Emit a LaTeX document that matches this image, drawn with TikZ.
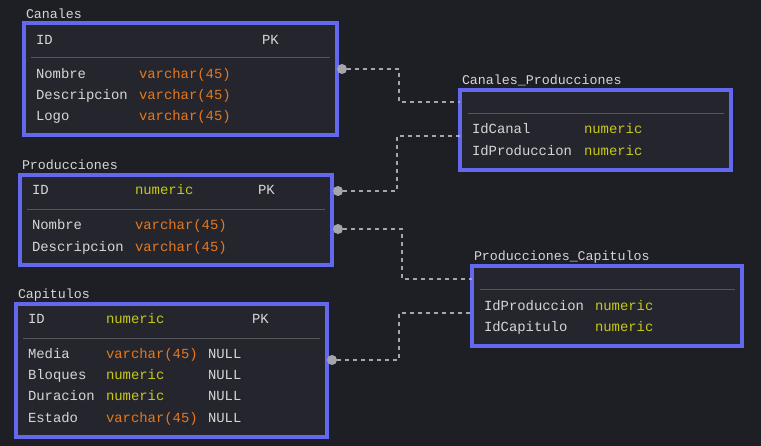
\documentclass[tikz,border=0pt]{standalone}
\usepackage{fontspec}
\setmonofont{Liberation Mono}
\definecolor{bgcol}{RGB}{30,31,36}
\definecolor{boxcol}{RGB}{37,38,45}
\definecolor{edgecol}{RGB}{99,104,238}
\definecolor{txtcol}{RGB}{214,214,214}
\definecolor{varcol}{RGB}{230,120,30}
\definecolor{numcol}{RGB}{200,200,25}
\definecolor{linkcol}{RGB}{165,165,170}
\definecolor{sepcol}{RGB}{85,86,92}
\begin{document}
\begin{tikzpicture}
[x=1pt,y=-1pt,
 every node/.style={inner sep=0pt,outer sep=0pt},
 tbl/.style={rectangle,draw=edgecol,fill=boxcol,line width=3.2pt,anchor=north west},
 ttl/.style={anchor=mid west,yshift=-1.5pt,text=txtcol,font=\fontsize{13.3}{15}\ttfamily},
 fld/.style={anchor=mid west,yshift=-2pt,text=txtcol,font=\fontsize{13.9}{16}\ttfamily},
 vch/.style={fld,text=varcol},
 num/.style={fld,text=numcol},
 sep/.style={draw=sepcol,line width=1pt},
 dot/.style={circle,fill=linkcol,minimum size=10pt},
 link/.style={draw=linkcol,line width=1.2pt,dash pattern=on 4pt off 4pt}]
\fill[bgcol] (0,0) rectangle (761,446);

% tables
\node[tbl,minimum width=313pt,minimum height=112pt] (canales)  at (24,23)  {};
\node[tbl,minimum width=271pt,minimum height=80pt]  (canprod)  at (460,90) {};
\node[tbl,minimum width=312pt,minimum height=90pt]  (producc)  at (20,175) {};
\node[tbl,minimum width=270pt,minimum height=80pt]  (prodcap)  at (472,266) {};
\node[tbl,minimum width=311pt,minimum height=133pt] (capitul)  at (16,304) {};

% Canales
\node[ttl] (canalesT) at (26,15) {Canales};
\node[fld] (canID)  at (36,40)  {ID};
\node[fld] (canPK)  at (262,40) {PK};
\path[sep] (31,58) -- (330,58);
\node[fld] (canNom) at (36,74)   {Nombre};
\node[vch] (canNomT) at (139,74) {varchar(45)};
\node[fld] (canDes) at (36,95)   {Descripcion};
\node[vch] (canDesT) at (139,95) {varchar(45)};
\node[fld] (canLog) at (36,116)  {Logo};
\node[vch] (canLogT) at (139,116) {varchar(45)};

% Canales_Producciones
\node[ttl] (canprodT) at (462,81) {Canales\_Producciones};
\path[sep] (468,114) -- (724,114);
\node[fld] (cpCan)  at (472,129)  {IdCanal};
\node[num] (cpCanT) at (584,129)  {numeric};
\node[fld] (cpPro)  at (472,151)  {IdProduccion};
\node[num] (cpProT) at (584,151)  {numeric};

% Producciones
\node[ttl] (produccT) at (22,166) {Producciones};
\node[fld] (proID)  at (32,190)  {ID};
\node[num] (proIDT) at (135,190) {numeric};
\node[fld] (proPK)  at (258,190) {PK};
\path[sep] (27,210) -- (325,210);
\node[fld] (proNom) at (32,225)   {Nombre};
\node[vch] (proNomT) at (135,225) {varchar(45)};
\node[fld] (proDes) at (32,247)   {Descripcion};
\node[vch] (proDesT) at (135,247) {varchar(45)};

% Producciones_Capitulos
\node[ttl] (prodcapT) at (474,257) {Producciones\_Capitulos};
\path[sep] (480,290) -- (735,290);
\node[fld] (pcPro)  at (484,306)  {IdProduccion};
\node[num] (pcProT) at (595,306)  {numeric};
\node[fld] (pcCap)  at (484,327)  {IdCapitulo};
\node[num] (pcCapT) at (595,327)  {numeric};

% Capitulos
\node[ttl] (capitulT) at (18,295) {Capitulos};
\node[fld] (capID)  at (28,319)  {ID};
\node[num] (capIDT) at (106,319) {numeric};
\node[fld] (capPK)  at (252,319) {PK};
\path[sep] (23,339) -- (320,339);
\node[fld] (capMed)  at (28,354)  {Media};
\node[vch] (capMedT) at (106,354) {varchar(45)};
\node[fld] (capMedN) at (208,354) {NULL};
\node[fld] (capBlo)  at (28,375)  {Bloques};
\node[num] (capBloT) at (106,375) {numeric};
\node[fld] (capBloN) at (208,375) {NULL};
\node[fld] (capDur)  at (28,396)  {Duracion};
\node[num] (capDurT) at (106,396) {numeric};
\node[fld] (capDurN) at (208,396) {NULL};
\node[fld] (capEst)  at (28,418)  {Estado};
\node[vch] (capEstT) at (106,418) {varchar(45)};
\node[fld] (capEstN) at (208,418) {NULL};

% relations
\node[dot] (dCan)  at (342,69)  {};
\node[dot] (dPro1) at (338,191) {};
\node[dot] (dPro2) at (338,229) {};
\node[dot] (dCap)  at (332,360) {};
\path[link] (dCan)  -- (399,69)  -- (399,102) -- (canprod.west |- 0,102);
\path[link] (dPro1) -- (397,191) -- (397,136) -- (canprod.west |- 0,136);
\path[link] (dPro2) -- (402,229) -- (402,279) -- (prodcap.west |- 0,279);
\path[link] (dCap)  -- (399,360) -- (399,313) -- (prodcap.west |- 0,313);
\end{tikzpicture}
\end{document}
